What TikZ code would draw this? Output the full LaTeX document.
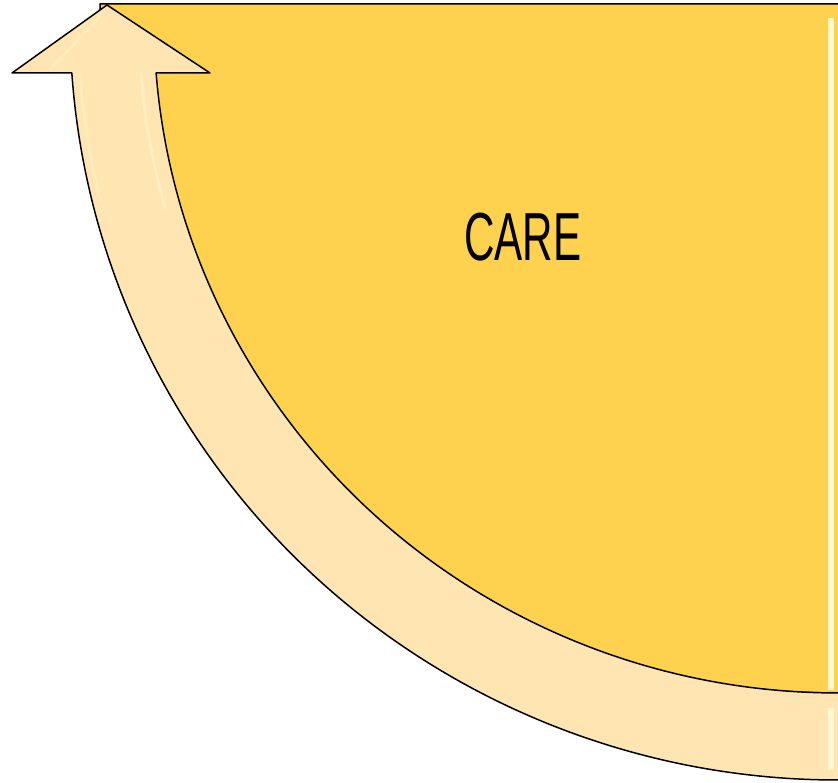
\documentclass[tikz,border=0pt]{standalone}
\usepackage{fontspec}
\setmainfont{Liberation Sans}
\usepackage{graphicx}
\definecolor{caregold}{RGB}{254, 210, 78}
\definecolor{carecream}{RGB}{255, 229, 178}
\definecolor{careglint}{RGB}{255, 247, 205}

\begin{document}
\begin{tikzpicture}[x=1pt, y=1pt,
    outline/.style={draw=black, line width=1.5pt, line join=round},
    glint/.style={careglint, line width=3pt, line cap=round}]
    \useasboundingbox (0,0) rectangle (838,782);
    \clip (0,0) rectangle (838,782);

    %% quarter disc
    \filldraw[fill=caregold, outline] (860,778) -- (100,778)
        arc[start angle=180, end angle=270, x radius=738, y radius=689] -- (860,89) -- cycle;
    \fill[careglint] (828,92) rectangle (834,764);

    %% curved arrow
    \filldraw[fill=carecream, outline] (71.9,709) -- (12,709) -- (107,777) -- (210,709) -- (156.1,709)
        arc[start angle=184.52, end angle=275, x radius=684, y radius=673] -- (904.9,4.9)
        arc[start angle=275, end angle=184, x radius=768, y radius=760] -- cycle;
    \draw[glint, opacity=0.5] (141,709) arc[start angle=184.3, end angle=196, x radius=697, y radius=686];
    \draw[glint, opacity=0.35] (80,709) arc[start angle=184, end angle=194, x radius=758, y radius=750];
    \draw[glint, opacity=0.4] (50,712) -- (100,766);
    \fill[careglint] (828,12) rectangle (834,74);

    %% label
    \node[font=\fontsize{68}{68}\selectfont] (care) at (523,545) {\scalebox{0.62}[1]{CARE}};
\end{tikzpicture}
\end{document}
